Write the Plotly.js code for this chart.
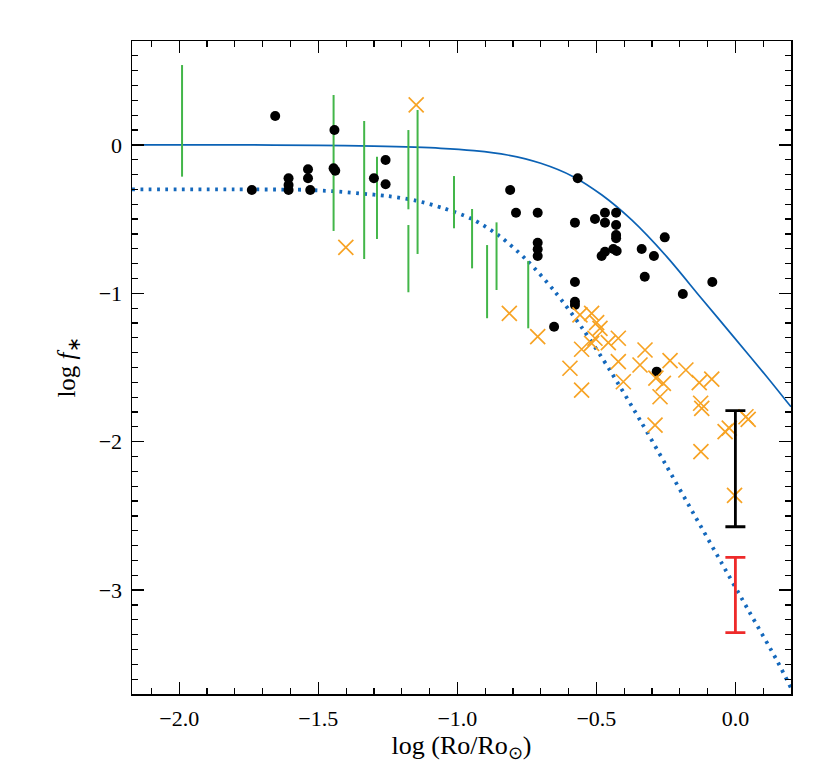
<!DOCTYPE html>
<html>
<head>
<meta charset="utf-8">
<script src="https://cdn.plot.ly/plotly-3.0.1.min.js"></script>
<style>html,body{margin:0;padding:0;background:#fff;}#chart{width:830px;height:779px;}</style>
</head>
<body>
<div id="chart"></div>
<script>
// Model curves
const solidX = [-2.17, -1.8, -1.5, -1.3, -1.06, -0.94, -0.82, -0.70, -0.583, -0.48, -0.373, -0.247, -0.127, -0.007, 0.113, 0.2];
const solidY = [0, 0, -0.003, -0.009, -0.023, -0.039, -0.068, -0.124, -0.214, -0.338, -0.506, -0.753, -1.023, -1.292, -1.562, -1.765];

const dottedX = [-2.17, -1.8, -1.55, -1.45, -1.35, -1.25, -1.15, -1.05, -0.95, -0.85, -0.75, -0.65, -0.55, -0.45, -0.343, -0.25, -0.15, -0.05, 0.05, 0.15, 0.2];
const dottedY = [-0.30, -0.30, -0.303, -0.312, -0.327, -0.345, -0.375, -0.427, -0.497, -0.612, -0.777, -0.987, -1.237, -1.522, -1.854, -2.156, -2.486, -2.816, -3.146, -3.476, -3.66];

// Green vertical ranges
const greenX    = [-1.990, -1.445, -1.335, -1.289, -1.176, -1.176, -1.143, -1.012, -0.947, -0.893, -0.859, -0.745];
const greenLow  = [-0.214, -0.580, -0.769, -0.634, -0.434, -0.993, -0.735, -0.562, -0.832, -1.168, -0.978, -1.236];
const greenHigh = [ 0.538,  0.336,  0.161, -0.080,  0.100, -0.540,  0.235, -0.210, -0.432, -0.675, -0.522, -0.782];

// Black filled circles
const blackX = [-1.655, -1.739, -1.607, -1.607, -1.607, -1.537, -1.537, -1.529, -1.442, -1.445, -1.439, -1.300, -1.258, -1.258,
                -0.567, -0.810, -0.789, -0.711, -0.711, -0.711, -0.711, -0.577, -0.505, -0.469, -0.429, -0.469, -0.429, -0.429,
                -0.429, -0.439, -0.427, -0.481, -0.469, -0.337, -0.293, -0.254, -0.326, -0.189, -0.083, -0.577, -0.577, -0.577,
                -0.652, -0.283];
const blackY = [0.195, -0.304, -0.225, -0.270, -0.304, -0.164, -0.225, -0.304, 0.100, -0.158, -0.174, -0.225, -0.102, -0.265,
                -0.225, -0.304, -0.457, -0.457, -0.659, -0.703, -0.749, -0.524, -0.499, -0.457, -0.457, -0.524, -0.540, -0.607,
                -0.629, -0.702, -0.715, -0.749, -0.720, -0.702, -0.749, -0.623, -0.888, -1.005, -0.924, -0.924, -1.057, -1.079,
                -1.225, -1.528];

// Orange crosses
const orangeX = [-1.148, -1.401, -0.813, -0.711, -0.559, -0.517, -0.499, -0.487, -0.505, -0.421, -0.457, -0.553, -0.517,
                 -0.421, -0.595, -0.553, -0.403, -0.325, -0.343, -0.235, -0.259, -0.271, -0.178, -0.130, -0.085, -0.125,
                 -0.121, -0.289, -0.037, -0.022, 0.038, 0.046, -0.124, -0.003, -0.286];
const orangeY = [0.269, -0.690, -1.135, -1.292, -1.146, -1.135, -1.198, -1.236, -1.303, -1.303, -1.333, -1.377, -1.337,
                 -1.461, -1.505, -1.652, -1.596, -1.382, -1.483, -1.454, -1.607, -1.697, -1.517, -1.602, -1.579, -1.741,
                 -1.775, -1.888, -1.932, -1.909, -1.832, -1.849, -2.067, -2.362, -1.571];

// Range bars at log Ro = 0
const rangeX = [0.0];
const blackBarLow = [-2.573], blackBarHigh = [-1.791];
const redBarLow = [-3.287], redBarHigh = [-2.779];

function segs(xs, lo, hi) {
  const x = [], y = [];
  xs.forEach((v, i) => { x.push(v, v, null); y.push(lo[i], hi[i], null); });
  return {x, y};
}
const g = segs(greenX, greenLow, greenHigh);

function bar(lo, hi, color) {
  return {
    type: 'scatter', mode: 'markers', x: rangeX,
    y: lo.map((v, i) => (v + hi[i]) / 2),
    marker: {size: 1, color: 'rgba(0,0,0,0)'},
    error_y: {type: 'data', symmetric: true, array: lo.map((v, i) => (hi[i] - v) / 2),
              color: color, thickness: 2.8, width: 10},
    hoverinfo: 'skip'
  };
}

const blue = '#0b62b5';
const data = [
  {type: 'scatter', mode: 'lines', x: dottedX, y: dottedY, line: {color: '#1468bc', width: 3.8, dash: '2.8px,5.5px', shape: 'spline', smoothing: 0.8}},
  {type: 'scatter', mode: 'lines', x: solidX, y: solidY, line: {color: blue, width: 1.7, shape: 'spline', smoothing: 0.8}},
  {type: 'scatter', mode: 'lines', x: g.x, y: g.y, line: {color: '#43b649', width: 2}},
  {type: 'scatter', mode: 'markers', x: blackX, y: blackY, marker: {color: 'black', size: 10}},
  {type: 'scatter', mode: 'markers', x: orangeX, y: orangeY, marker: {symbol: 'x-thin', size: 15, line: {color: '#f7a324', width: 1.7}}},
  bar(blackBarLow, blackBarHigh, 'black'),
  bar(redBarLow, redBarHigh, '#ee2a2a')
];

const font = {family: 'Liberation Serif, serif', size: 22, color: 'black'};
const axisCommon = {
  showgrid: false, zeroline: false, showline: true, linecolor: 'black', linewidth: 1.5,
  mirror: 'ticks', ticks: 'inside', ticklen: 12, tickwidth: 1.3, tickcolor: 'black',
  tickfont: font, tickmode: 'linear', tick0: 0
};
const layout = {
  width: 830, height: 779,
  margin: {l: 132, r: 39, t: 41, b: 85},
  paper_bgcolor: 'white', plot_bgcolor: 'white',
  showlegend: false, hovermode: false,
  font: font,
  xaxis: Object.assign({}, axisCommon, {
    range: [-2.17, 0.2], dtick: 0.5, tickformat: '.1f', ticklabelstandoff: 4,
    minor: {ticks: 'inside', ticklen: 6, dtick: 0.1, tick0: 0, tickwidth: 1.2, tickcolor: 'black', showgrid: false},
    title: {text: 'log (Ro/Ro<sub>⊙</sub>)', font: {family: 'Liberation Serif, serif', size: 26}, standoff: 2}
  }),
  yaxis: Object.assign({}, axisCommon, {
    range: [-3.7, 0.7], dtick: 1, ticklabelstandoff: 4,
    minor: {ticks: 'inside', ticklen: 6, dtick: 0.1, tick0: 0, tickwidth: 1.2, tickcolor: 'black', showgrid: false},
    title: {text: 'log <i>f</i><sub>∗</sub>', font: {family: 'Liberation Serif, serif', size: 25}, standoff: 16}
  })
};
Plotly.newPlot('chart', data, layout, {staticPlot: true, displayModeBar: false});
</script>
</body>
</html>
